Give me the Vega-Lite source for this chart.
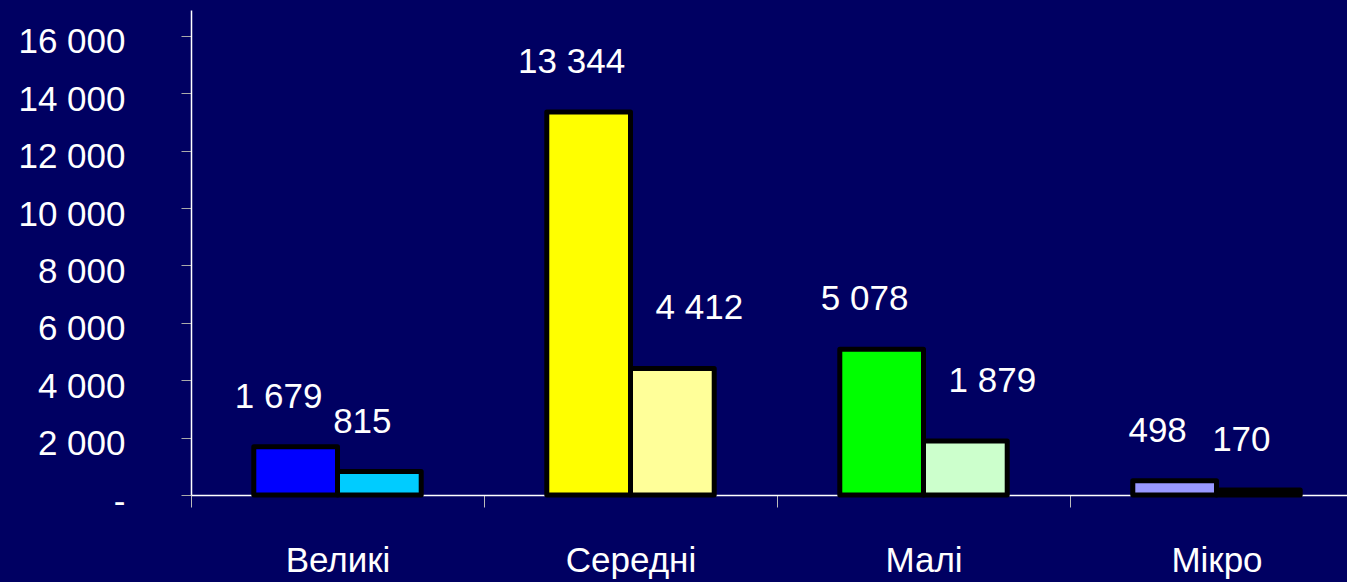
{
  "$schema": "https://vega.github.io/schema/vega-lite/v6.json",
  "autosize": "none",
  "width": 1156,
  "height": 485,
  "padding": {"left": 191, "top": 10, "right": 0, "bottom": 87},
  "background": "#000062",
  "config": {
    "view": {"stroke": null},
    "font": "Liberation Sans",
    "locale": {"number": {"decimal": ",", "thousands": " ", "grouping": [3], "currency": ["", ""]}}
  },
  "data": {
    "values": [
      {"cat": "Великі", "series": "a", "key": "Великі a", "value": 1679},
      {"cat": "Великі", "series": "b", "key": "Великі b", "value": 815},
      {"cat": "Середні", "series": "a", "key": "Середні a", "value": 13344},
      {"cat": "Середні", "series": "b", "key": "Середні b", "value": 4412},
      {"cat": "Малі", "series": "a", "key": "Малі a", "value": 5078},
      {"cat": "Малі", "series": "b", "key": "Малі b", "value": 1879},
      {"cat": "Мікро", "series": "a", "key": "Мікро a", "value": 498},
      {"cat": "Мікро", "series": "b", "key": "Мікро b", "value": 170}
    ]
  },
  "encoding": {
    "x": {
      "field": "cat", "type": "nominal", "sort": null,
      "scale": {"paddingInner": 0, "paddingOuter": 0, "range": [0, 1172]},
      "axis": {
        "title": null, "labelAngle": 0, "domainColor": "#ffffff", "domainWidth": 1.5,
        "tickColor": "#bbbbbb", "tickSize": 12, "tickBand": "extent",
        "labelColor": "#ffffff", "labelFontSize": 35, "labelPadding": 36, "labelBaseline": "top"
      }
    },
    "xOffset": {"field": "series", "type": "nominal", "scale": {"paddingInner": 0, "paddingOuter": 0.75}},
    "y": {
      "field": "value", "type": "quantitative",
      "scale": {"domain": [0, 16900], "nice": false},
      "axis": {
        "title": null, "values": [0, 2000, 4000, 6000, 8000, 10000, 12000, 14000, 16000],
        "labelExpr": "datum.value == 0 ? '-' : format(datum.value, ',')",
        "grid": false, "domainColor": "#ffffff", "domainWidth": 1.5,
        "tickColor": "#aaaaaa", "tickSize": 10, "labelPadding": 56, "labelOffset": 6,
        "labelColor": "#ffffff", "labelFontSize": 35
      }
    }
  },
  "layer": [
    {
      "mark": {"type": "bar", "stroke": "#000000", "strokeWidth": 5, "strokeJoin": "round"},
      "encoding": {
        "color": {
          "field": "key", "type": "nominal", "legend": null,
          "scale": {
            "domain": ["Великі a", "Великі b", "Середні a", "Середні b", "Малі a", "Малі b", "Мікро a", "Мікро b"],
            "range": ["#0000ff", "#00ccff", "#ffff00", "#ffff99", "#00ff00", "#ccffcc", "#9999ff", "#220000"]
          }
        }
      }
    },
    {
      "transform": [{"filter": "datum.key != 'Середні b' && datum.key != 'Малі b'"}],
      "mark": {"type": "text", "color": "#ffffff", "fontSize": 35, "baseline": "middle", "dy": -50, "dx": -17},
      "encoding": {
        "text": {"field": "value", "type": "quantitative", "format": ","}
      }
    },
    {
      "transform": [{"filter": "datum.key == 'Середні b' || datum.key == 'Малі b'"}],
      "mark": {"type": "text", "color": "#ffffff", "fontSize": 35, "baseline": "middle", "dy": -60, "dx": 27},
      "encoding": {
        "text": {"field": "value", "type": "quantitative", "format": ","}
      }
    }
  ]
}
